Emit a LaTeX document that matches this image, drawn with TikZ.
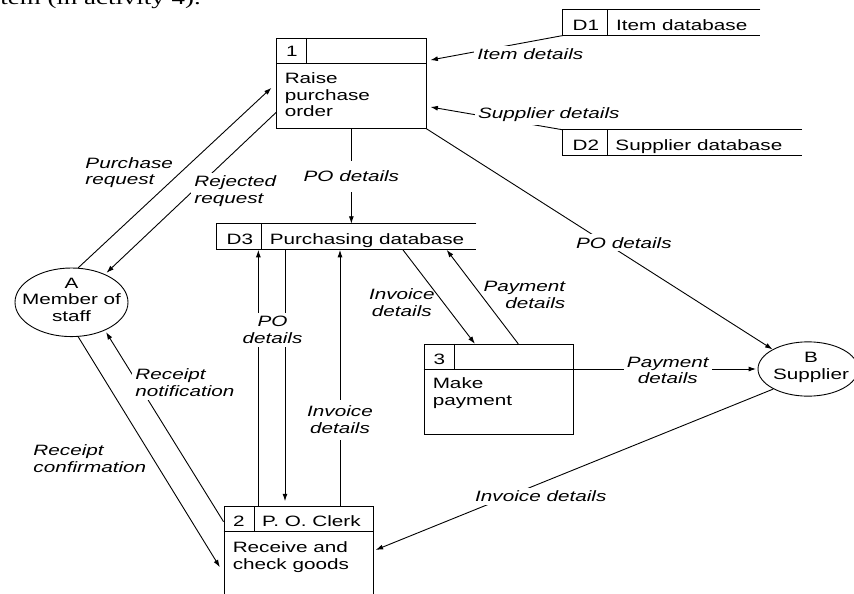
\documentclass[tikz,border=0pt]{standalone}
\usepackage{fontspec}
\newfontfamily\dfd{Liberation Sans}[FakeStretch=1.38]
\newfontfamily\pagefont{Liberation Serif}[FakeStretch=1.38]
\usetikzlibrary{arrows.meta,shapes.geometric,calc}

\begin{document}
\begin{tikzpicture}[x=1pt, y=-1pt, line width=0.9pt,
  every node/.style={font=\dfd\fontsize{15}{16.8}\selectfont, inner sep=0pt},
  proc/.style={draw, rectangle, minimum width=149.3pt, minimum height=90pt},
  store/.style={rectangle, minimum height=25.2pt},
  ent/.style={draw, ellipse},
  flow/.style={-{Latex[length=7.5pt,width=5pt]}},
  lbl/.style={font=\dfd\itshape\fontsize{15}{16.8}\selectfont, inner sep=3pt, align=center},
  gap/.style={fill=white}]
\useasboundingbox (0,0) rectangle (854,594);
\clip (0,0) rectangle (854,594);
% cut-off line of the page above
\node[anchor=base west, font=\pagefont\fontsize{19.5}{22}\selectfont] (pagetext) at (0,4.5) {tem (in activity 4).};
% ---- processes
\node[proc] (p1) at (351.35,83.3) {};
\node[proc] (p2) at (298.65,551.7) {};
\node[proc] (p3) at (498.65,389.3) {};
\foreach \p in {p1,p2,p3} {
  \draw ([yshift=-25.5pt]\p.north west) -- ([yshift=-25.5pt]\p.north east);
  \draw ([xshift=30.5pt]\p.north west) -- ([xshift=30.5pt,yshift=-25.5pt]\p.north west);
}
\node[anchor=base] (n1) at (292,56.7) {1};
\node[anchor=north west, align=left] (t1) at (284.3,71.9) {Raise\\purchase\\order};
\node[anchor=base] (n2) at (239,526) {2};
\node[anchor=base west] (c2) at (261.7,526) {P. O. Clerk};
\node[anchor=north west, align=left] (t2) at (232.3,540.9) {Receive and\\check goods};
\node[anchor=base] (n3) at (439.3,364) {3};
\node[anchor=north west, align=left] (t3) at (432.3,377.5) {Make\\payment};
% ---- data stores
\node[store, minimum width=196.7pt] (d1) at (661.65,22.5) {};
\node[store, minimum width=238.4pt] (d2) at (682.5,142.85) {};
\node[store, minimum width=258.7pt] (d3) at (346.65,236.8) {};
\foreach \d in {d1,d2,d3} {
  \draw (\d.north east) -- (\d.north west) -- (\d.south west) -- (\d.south east);
  \draw ([xshift=45pt]\d.north west) -- ([xshift=45pt]\d.south west);
}
\node[anchor=base] (k1) at (585.8,30.7) {D1};
\node[anchor=base west] (s1) at (615.7,30.7) {Item database};
\node[anchor=base] (k2) at (585.8,150) {D2};
\node[anchor=base west] (s2) at (615,150) {Supplier database};
\node[anchor=base] (k3) at (239.8,244) {D3};
\node[anchor=base west] (s3) at (269.3,244) {Purchasing database};
% ---- external entities
\node[ent, minimum width=113pt, minimum height=68.6pt] (A) at (71.5,302.3) {};
\node[align=center] (Atext) at (71.5,299.8) {A\\Member of\\staff};
\node[ent, minimum width=100pt, minimum height=54.3pt] (B) at (808,369) {};
\node[align=center] (Btext) at (811,367.3) {B\\Supplier};
% ---- flows
\draw[flow, shorten >=4pt] (d1.south west) -- ([yshift=22.5pt]p1.east);
\draw[flow, shorten >=4pt] (d2.north west) -- ([yshift=-23pt]p1.east);
\draw[flow, shorten >=6.5pt] (A.79) -- (p1.west);
\draw[flow, shorten >=2pt] ([yshift=-29pt]p1.west) -- (A.40);
\draw[flow, shorten >=2pt] ([yshift=30pt]p2.west) -- (A.-40);
\draw[flow, shorten >=7pt] (A.-79) -- ([yshift=-21.5pt]p2.west);
\draw[flow] (p1.south) -- node[lbl, gap, inner ysep=10pt] (lpo1) {PO details} (p1.south |- d3.north);
\draw[flow] ([xshift=-40.3pt]p2.north) -- ([xshift=-88.3pt]d3.south);
\draw[flow, shorten >=5pt] ([xshift=-61.65pt]d3.south) -- ([xshift=-13.65pt]p2.north);
\draw[flow] ([xshift=41.35pt]p2.north) -- ([xshift=-6.65pt]d3.south);
\draw[flow] ([xshift=56.3pt]d3.south) -- ([xshift=-23.7pt]p3.north);
\draw[flow] ([xshift=19.6pt]p3.north) -- ([xshift=100pt]d3.south);
\draw[flow] (p1.south east) -- (B.151);
\draw[flow, shorten >=1.5pt] (p3.east |- B.west) -- (B.west);
\draw[flow, shorten >=2pt] (B.210) -- ([yshift=1pt]p2.east);
% ---- flow labels
\node[lbl, anchor=west, align=left] (lpr) at (82,172.7) {Purchase\\request};
\node[lbl, gap, anchor=west, align=left] (lrj) at (191,191.2) {Rejected\\request};
\node[lbl, gap] (lit) at (530.3,54.5) {Item details};
\node[lbl, gap] (lsd) at (548.8,115) {Supplier details};
\node[lbl, gap] (lpo2) at (623.9,242.8) {PO details};
\node[lbl, gap] (lpo3) at (272.5,330.2) {PO\\details};
\node[lbl] (linv1) at (401.8,302.9) {Invoice\\details};
\node[lbl, anchor=east, align=right] (lpay1) at (568.7,294.6) {Payment\\details};
\node[lbl, gap] (lpay2) at (667.8,370.5) {Payment\\details};
\node[lbl, gap, inner ysep=6pt] (linv2) at (340,420) {Invoice\\details};
\node[lbl, gap, anchor=west, align=left] (lrn) at (132,382.9) {Receipt\\notification};
\node[lbl, anchor=west, align=left] (lrc) at (30,458.9) {Receipt\\confirmation};
\node[lbl, gap] (linv3) at (540.8,496.2) {Invoice details};
\end{tikzpicture}
\end{document}
